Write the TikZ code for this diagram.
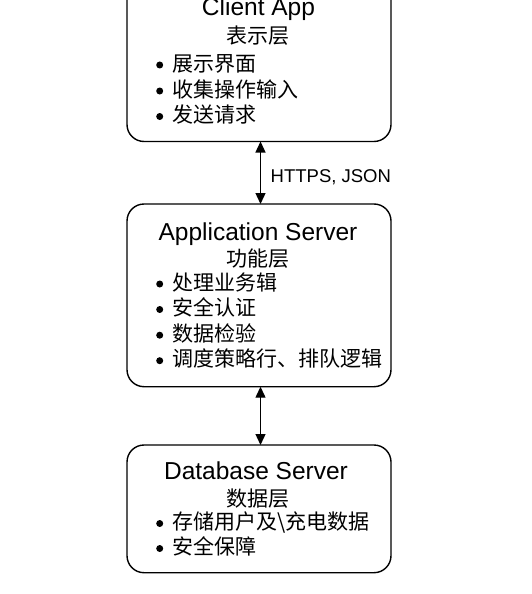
\documentclass[tikz,border=0pt]{standalone}
\usepackage{fontspec}
\setmainfont{Liberation Sans}
\newfontfamily\cjk{Noto Sans CJK SC}
\usetikzlibrary{arrows.meta}
\tikzset{
  layerbox/.style={draw=black, line width=1.4pt, rounded corners=17pt, minimum width=264pt, inner sep=0pt, outer sep=0pt},
  title/.style={anchor=base, inner sep=0pt, font=\fontsize{24.5}{28}\selectfont},
  subtitle/.style={anchor=base, inner sep=0pt, font=\fontsize{21}{24}\selectfont\cjk},
  bulletline/.style={anchor=base west, inner sep=0pt, font=\fontsize{21}{24}\selectfont\cjk},
  bulletdot/.style={fill=black},
  link/.style={line width=1.3pt, {Triangle[length=11pt,width=10pt]}-{Triangle[length=11pt,width=10pt]}},
  linklabel/.style={anchor=base west, inner sep=0pt, font=\fontsize{18.5}{22}\selectfont}
}
\begin{document}
\begin{tikzpicture}[x=1pt,y=-1pt]
\useasboundingbox (0,0) rectangle (531,594);
% boxes
\node[layerbox, minimum height=161.5pt] (client) at (259,60.75) {};
\node[layerbox, minimum height=182.7pt] (app) at (259,295.35) {};
\node[layerbox, minimum height=127.7pt] (db) at (259,508.85) {};
% client texts
\node[title] (t1) at (258.5,16) {Client App};
\node[subtitle] (s1) at (258,43.5) {表示层};
\node[bulletline] (c1) at (172.5,71) {展示界面};
\node[bulletline] (c2) at (172.5,97) {收集操作输入};
\node[bulletline] (c3) at (172.5,122.5) {发送请求};
% app texts
\node[title] (t2) at (258,240) {Application Server};
\node[subtitle] (s2) at (258,266) {功能层};
\node[bulletline] (a1) at (172.5,290) {处理业务辑};
\node[bulletline] (a2) at (172.5,315.5) {安全认证};
\node[bulletline] (a3) at (172.5,341.2) {数据检验};
\node[bulletline] (a4) at (172.5,366.7) {调度策略行、排队逻辑};
% db texts
\node[title] (t3) at (256,479.5) {Database Server};
\node[subtitle] (s3) at (258,506) {数据层};
\node[bulletline] (d1) at (172.5,529.5) {存储用户及\textbackslash 充电数据};
\node[bulletline] (d2) at (172.5,554.5) {安全保障};
% bullets
\foreach \n in {c1,c2,c3,a1,a2,a3,a4,d1,d2}
  \fill[bulletdot] ([xshift=-12.8pt,yshift=6pt]\n.base west) circle (3.5pt);
% connectors
\draw[link] ([xshift=1.5pt]client.south) -- ([xshift=1.5pt]app.north);
\draw[link] ([xshift=1.5pt]app.south) -- ([xshift=1.5pt]db.north);
\node[linklabel] (lbl) at (270.5,182.7) {HTTPS, JSON};
\end{tikzpicture}
\end{document}
